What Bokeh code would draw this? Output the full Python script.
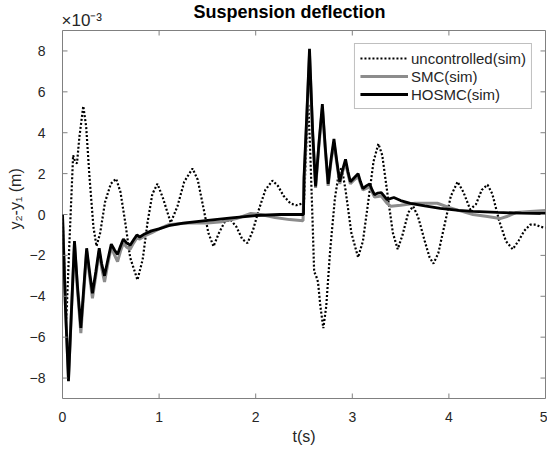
from bokeh.plotting import figure
from bokeh.models import Range1d, Legend, LegendItem, FixedTicker, Title
from bokeh.embed import file_html
from bokeh.resources import INLINE

# ---- data (deflection values in units of 1e-3 m) ----
t_unc = [0.0, 0.04, 0.075, 0.11, 0.13, 0.15, 0.175, 0.215, 0.245, 0.28, 0.32, 0.352, 0.39, 0.44, 0.50,
         0.555, 0.60, 0.65, 0.70, 0.776, 0.83, 0.88, 0.93, 0.983, 1.04, 1.12, 1.19, 1.26, 1.346, 1.40,
         1.46, 1.51, 1.563, 1.62, 1.68, 1.739, 1.80, 1.86, 1.915, 1.97, 2.03, 2.10, 2.174, 2.23, 2.29,
         2.36, 2.42, 2.49, 2.50, 2.525, 2.545, 2.565, 2.59, 2.605, 2.625, 2.645, 2.67, 2.70, 2.73, 2.77,
         2.82, 2.86, 2.89, 2.93, 2.99, 3.06, 3.11, 3.17, 3.22, 3.27, 3.31, 3.37, 3.42, 3.47, 3.52, 3.58,
         3.63, 3.68, 3.75, 3.80, 3.84, 3.89, 3.96, 4.02, 4.09, 4.15, 4.22, 4.28, 4.34, 4.40, 4.45, 4.52,
         4.59, 4.66, 4.72, 4.78, 4.84, 4.90, 4.95, 5.0]
y_unc = [0.0, -5.1, -1.0, 2.9, 2.6, 2.5, 3.8, 5.3, 4.3, 1.8, -0.6, -1.55, -0.9, 0.6, 1.5,
         1.75, 1.1, -0.4, -2.1, -3.2, -2.2, -0.4, 1.0, 1.5, 0.8, -0.4, 0.4, 1.6, 2.25, 1.7,
         0.3, -0.9, -1.56, -0.9, -0.35, -0.25, -0.6, -1.2, -1.4, -0.8, 0.2, 1.2, 1.66, 1.4, 0.9,
         0.54, 0.45, 0.55, 0.6, 3.5, 5.4, 3.0, -0.5, -2.8, -3.0, -3.3, -4.5, -5.56, -4.5, -1.8,
         0.8, 2.0, 2.3, 1.2, -0.9, -2.1, -1.3, 0.8, 2.6, 3.46, 2.9, 0.8, -0.9, -1.7, -1.0, 0.1,
         0.4, -0.1, -1.3, -2.1, -2.4, -1.9, -0.4, 0.9, 1.6, 1.1, 0.25, 0.5, 1.2, 1.46, 1.0, -0.3,
         -1.3, -1.7, -1.3, -0.8, -0.5, -0.5, -0.6, -0.65]

t_smc = [0.0, 0.03, 0.062, 0.09, 0.124, 0.155, 0.19, 0.22, 0.25, 0.28, 0.31, 0.345, 0.38, 0.405, 0.435,
         0.47, 0.505, 0.54, 0.57, 0.60, 0.63, 0.665, 0.70, 0.735, 0.77, 0.80, 0.85, 0.92, 1.0, 1.1,
         1.2, 1.35, 1.5, 1.65, 1.8, 1.95, 2.05, 2.2, 2.35, 2.49, 2.50, 2.53, 2.557, 2.59, 2.62,
         2.655, 2.69, 2.72, 2.75, 2.78, 2.81, 2.84, 2.87, 2.90, 2.93, 2.955, 2.98, 3.02, 3.06, 3.11,
         3.18, 3.23, 3.30, 3.36, 3.40, 3.50, 3.65, 3.88, 4.0, 4.1, 4.25, 4.4, 4.53, 4.6, 4.7,
         4.84, 5.0]
y_smc = [0.0, -4.4, -8.0, -5.0, -1.4, -3.7, -5.8, -3.8, -1.8, -3.0, -4.1, -3.0, -1.8, -2.6, -3.3,
         -2.4, -1.6, -2.0, -2.3, -1.8, -1.4, -1.6, -1.7, -1.4, -1.15, -1.2, -1.05, -0.9, -0.7, -0.5,
         -0.45, -0.4, -0.42, -0.35, -0.2, 0.05, 0.0, -0.15, -0.25, -0.3, 1.5, 4.8, 7.8, 3.9, 1.3,
         3.4, 5.2, 3.2, 1.4, 2.6, 3.5, 2.5, 1.5, 2.1, 2.5, 2.0, 1.5, 1.7, 1.85, 1.2,
         1.35, 0.85, 0.9, 0.55, 0.4, 0.45, 0.55, 0.55, 0.35, 0.2, 0.0, -0.1, -0.2, -0.1, 0.1,
         0.15, 0.2]

t_hos = [0.0, 0.03, 0.062, 0.09, 0.124, 0.155, 0.19, 0.22, 0.25, 0.28, 0.31, 0.345, 0.38, 0.405, 0.435,
         0.47, 0.505, 0.54, 0.57, 0.60, 0.63, 0.665, 0.70, 0.735, 0.77, 0.80, 0.85, 0.92, 1.0, 1.1,
         1.25, 1.48, 1.75, 2.0, 2.25, 2.495, 2.50, 2.53, 2.557, 2.59, 2.62, 2.655, 2.69, 2.72, 2.75,
         2.78, 2.81, 2.84, 2.87, 2.90, 2.93, 2.955, 2.98, 3.02, 3.06, 3.085, 3.11, 3.145, 3.18, 3.205,
         3.23, 3.265, 3.30, 3.33, 3.36, 3.43, 3.50, 3.60, 3.75, 3.91, 4.1, 4.25, 4.5, 4.75, 5.0]
y_hos = [0.0, -4.5, -8.15, -5.0, -1.3, -3.5, -5.55, -3.6, -1.65, -2.8, -3.85, -2.8, -1.65, -2.4, -3.0,
         -2.2, -1.45, -1.75, -1.95, -1.55, -1.2, -1.4, -1.5, -1.25, -1.0, -1.1, -0.95, -0.8, -0.7, -0.55,
         -0.42, -0.3, -0.17, -0.05, 0.0, 0.0, 1.8, 5.0, 8.1, 4.0, 1.37, 3.5, 5.4, 3.3, 1.5,
         2.7, 3.7, 2.6, 1.6, 2.2, 2.7, 2.1, 1.6, 1.8, 2.0, 1.6, 1.27, 1.4, 1.5, 1.2,
         0.97, 1.05, 1.07, 0.9, 0.73, 0.83, 0.68, 0.54, 0.42, 0.3, 0.2, 0.15, 0.1, 0.07, 0.05]

x_ticks = [0, 1, 2, 3, 4, 5]
y_ticks = [-8, -6, -4, -2, 0, 2, 4, 6, 8]
labels = ["uncontrolled(sim)", "SMC(sim)", "HOSMC(sim)"]
title = "Suspension deflection"
exponent = "\u00d710\u207b\u00b3"

FONT = "Liberation Sans"
AX = "#808080"
TXT = "#262626"

W, H = 547, 450
L, R, T, B = 62, 2, 30, 52
X0, X1, Y0, Y1 = 0, 5, -9, 9

p = figure(width=W, height=H, output_backend="svg", toolbar_location=None,
           x_range=Range1d(X0, X1), y_range=Range1d(Y0, Y1), title_location=None,
           min_border_left=L, min_border_right=R, min_border_top=T, min_border_bottom=B)
p.grid.visible = False
p.outline_line_color = AX
p.outline_line_width = 1

# exponent label (nearest the frame) and title (outer)
p.add_layout(Title(text=exponent, align="left", offset=-1, standoff=1, text_font=FONT,
                   text_font_size="17px", text_font_style="normal", text_color=TXT), "above")
p.add_layout(Title(text=title, align="left", offset=131, standoff=-26, text_font=FONT,
                   text_font_size="18px", text_font_style="bold", text_color="black"), "above")

r_unc = p.line(t_unc, y_unc, line_color="black", line_width=2.2, line_dash="2 2")
r_smc = p.line(t_smc, y_smc, line_color="#8c8c8c", line_width=3)
r_hos = p.line(t_hos, y_hos, line_color="black", line_width=2.8)

# inward tick marks on all four sides (5 px long)
fw, fh = W - L - R, H - T - B
dx = 5 * (X1 - X0) / fw
dy = 5 * (Y1 - Y0) / fh
nx, ny = len(x_ticks), len(y_ticks)
p.segment(x0=x_ticks, y0=[Y0] * nx, x1=x_ticks, y1=[Y0 + dy] * nx, line_color=AX, line_width=1)
p.segment(x0=x_ticks, y0=[Y1] * nx, x1=x_ticks, y1=[Y1 - dy] * nx, line_color=AX, line_width=1)
p.segment(x0=[X0] * ny, y0=y_ticks, x1=[X0 + dx] * ny, y1=y_ticks, line_color=AX, line_width=1)
p.segment(x0=[X1] * ny, y0=y_ticks, x1=[X1 - dx] * ny, y1=y_ticks, line_color=AX, line_width=1)

for ax, ticks in ((p.xaxis[0], x_ticks), (p.yaxis[0], y_ticks)):
    ax.ticker = FixedTicker(ticks=ticks)
    ax.axis_line_color = None
    ax.major_tick_line_color = None
    ax.minor_tick_line_color = None
    ax.major_label_text_font = FONT
    ax.major_label_text_color = TXT
    ax.major_label_text_font_size = "14px"
    ax.axis_label_text_font = FONT
    ax.axis_label_text_font_size = "16px"
    ax.axis_label_text_font_style = "normal"
    ax.axis_label_text_color = TXT
p.xaxis.major_label_standoff = 7
p.yaxis.major_label_standoff = 11
p.xaxis.axis_label_standoff = 3
p.yaxis.axis_label_standoff = 3
p.xaxis.axis_label = "t(s)"
p.yaxis.axis_label = "\u00a0" * 7 + "y\u2082-y\u2081 (m)"

legend = Legend(items=[LegendItem(label=labels[0], renderers=[r_unc]),
                       LegendItem(label=labels[1], renderers=[r_smc]),
                       LegendItem(label=labels[2], renderers=[r_hos])],
                location="top_right")
legend.margin = 13
legend.padding = 5
legend.spacing = 0
legend.glyph_width = 48
legend.glyph_height = 18
legend.label_height = 18
legend.label_standoff = 3
legend.label_text_font = FONT
legend.label_text_font_size = "15px"
legend.label_text_color = TXT
legend.border_line_color = AX
legend.border_line_width = 1
legend.background_fill_color = "white"
legend.background_fill_alpha = 1.0
p.add_layout(legend)

open("out.html", "w").write(file_html(p, INLINE))
